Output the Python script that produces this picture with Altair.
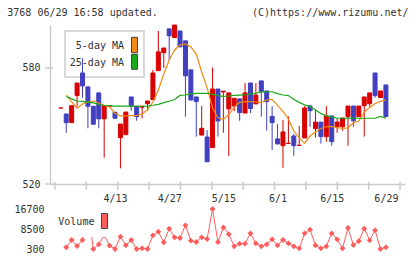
import altair as alt
import numpy as np
import pandas as pd

# Daily prices (oldest first)
open_ = [559.3, 556.2, 551.7, 565.7, 577.4, 570.2, 560.2, 567.1, 553.7, 560.2, 557.1, 544.0, 545.5, 565.0, 560.2,
         559.7, 561.5, 563.6, 578.6, 587.9, 600.2, 595.7, 599.1, 594.0, 579.0, 565.0, 545.3, 544.3, 538.8, 569.1,
         567.6, 558.8, 560.3, 564.0, 556.7, 572.2, 561.4, 573.3, 568.1, 555.0, 543.3, 539.8, 541.0, 544.8, 540.0,
         543.8, 560.3, 548.6, 552.0, 544.5, 555.2, 549.6, 549.6, 554.8, 560.3, 554.8, 560.5, 561.5, 577.4, 564.7, 571.2]
high = [559.3, 556.2, 560.5, 572.2, 585.0, 570.2, 560.2, 567.1, 560.5, 560.2, 557.1, 551.0, 557.2, 565.0, 560.2,
        560.4, 562.9, 579.0, 599.1, 590.3, 600.2, 602.2, 599.1, 594.0, 579.0, 565.0, 560.3, 547.8, 580.2, 569.1,
        568.0, 567.1, 564.3, 564.0, 572.2, 572.2, 572.2, 573.3, 568.1, 560.3, 551.0, 553.1, 555.0, 545.9, 550.0,
        560.3, 561.0, 558.3, 552.0, 560.3, 555.2, 553.8, 554.1, 560.3, 560.3, 560.3, 565.0, 567.1, 577.4, 568.1, 571.2]
low = [559.3, 546.5, 551.7, 560.0, 564.6, 548.8, 550.9, 548.8, 533.6, 560.2, 554.0, 528.1, 545.5, 557.9, 552.7,
       554.0, 557.8, 563.6, 578.6, 580.0, 584.0, 595.7, 590.9, 554.8, 563.4, 544.5, 545.3, 531.5, 538.8, 544.5,
       546.5, 534.5, 557.6, 552.7, 556.7, 556.7, 561.4, 554.8, 547.6, 537.6, 540.7, 528.4, 541.0, 534.6, 540.0,
       543.8, 549.6, 544.0, 540.9, 541.9, 539.8, 546.5, 547.6, 539.8, 549.6, 554.8, 544.5, 560.0, 564.6, 564.7, 554.8]
close = [559.3, 551.7, 560.5, 572.2, 570.7, 560.2, 550.9, 553.7, 560.5, 560.2, 554.0, 551.0, 557.2, 560.2, 554.8,
         560.2, 562.9, 577.4, 588.3, 590.3, 596.6, 602.2, 590.9, 575.9, 563.4, 562.6, 548.8, 531.5, 569.1, 552.6,
         568.0, 567.1, 564.3, 556.9, 567.1, 559.0, 566.0, 567.7, 562.6, 551.7, 540.7, 546.9, 541.0, 539.8, 540.0,
         559.3, 557.9, 552.0, 544.5, 555.2, 541.9, 552.0, 554.1, 560.3, 552.7, 560.3, 565.0, 567.1, 565.7, 568.1, 554.8]

# Moving averages
ma5 = [None, 565.9, 562.4, 559.2, 561.4, 562.3, 562.9, 561.9, 560.6, 559.8, 556.6, 555.2, 555.2, 555.4, 555.4,
       556.2, 558.3, 562.4, 568.6, 576.9, 584.1, 589.3, 591.9, 592.4, 590.9, 587.2, 577.9, 569.7, 559.3, 554.1,
       553.4, 555.9, 559.8, 562.2, 562.6, 562.6, 562.4, 562.2, 563.4, 563.7, 560.6, 557.5, 553.6, 547.4, 543.8,
       541.1, 544.8, 546.9, 548.7, 549.6, 549.8, 549.1, 548.8, 549.0, 551.6, 552.6, 557.0, 559.6, 561.6, 562.7, 563.4]
ma25 = [None, 565.2, 564.0, 562.9, 562.7, 562.3, 561.9, 561.1, 560.7, 560.5, 560.3, 560.3, 560.3, 560.3, 560.2,
        560.2, 560.3, 560.7, 561.2, 562.1, 562.8, 563.7, 565.8, 566.0, 566.6, 566.9, 566.9, 566.9, 566.3, 565.7,
        565.3, 565.5, 565.8, 565.9, 566.0, 566.6, 566.9, 567.6, 567.7, 567.7, 566.7, 566.0, 565.7, 563.7, 562.2,
        560.9, 560.0, 558.3, 556.5, 555.2, 554.7, 554.0, 554.0, 554.1, 554.0, 554.0, 554.0, 554.0, 554.0, 554.9, 554.0]

# Volume
volume = [None, 1000, 3990, 1530, 3990, 16290, 300, 2230, 6040, 1650, 300, 5340, 1820, 3990, 300,
          590, 300, 5920, 7390, 3050, 8620, 5100, 4810, 10020, 3700, 3170, 5100, 4400, 16700, 3170,
          9120, 6370, 1410, 2470, 2470, 6740, 2640, 1410, 2230, 4280, 1820, 3990, 2640, 1410, 590,
          6740, 8210, 1820, 590, 1410, 6740, 4280, 590, 8910, 1940, 3580, 8620, 3870, 7970, 300, 1000]

# Date labels on the day axis
label_days = [10, 20, 30, 40, 50, 60]
label_text = ["4/13", "4/27", "5/15", "6/1", "6/15", "6/29"]
price_ticks = [520, 580]
volume_ticks = [300, 8500, 16700]

RED, BLUE = "#d80000", "#4040c0"
ORANGE, GREEN, VOLC = "#f08a10", "#18a818", "#ff5c5c"
AXC, TXT = "#cccccc", "#333333"
FONT = "DejaVu Sans Mono"

W, H = 355, 224
PRICE_RANGE = [159, 0]
VOL_RANGE = [224, 184]

df = pd.DataFrame({"i": range(len(close)), "open": open_, "high": high, "low": low,
                   "close": close, "ma5": ma5, "ma25": ma25, "vol": volume})
df["dir"] = np.where(df["close"] >= df["open"], "up", "down")

x_min, x_max = -1.076, 62.6
xscale = alt.Scale(domain=[x_min, x_max], nice=False, zero=False)
pscale = alt.Scale(domain=[520, 602.2], range=PRICE_RANGE, nice=False, zero=False)
vscale = alt.Scale(domain=[300, 16700], range=VOL_RANGE, nice=False, zero=False)
cscale = alt.Scale(domain=["up", "down"], range=[RED, BLUE])

label_expr = "[" + ",".join(f"'{t}'" for t in label_text) + "][indexof([" + \
    ",".join(str(d) for d in label_days) + "], datum.value)]"
x_axis = alt.Axis(values=label_days, labelExpr=label_expr, offset=-(H - PRICE_RANGE[0]),
                  domainColor=AXC, domainWidth=1.5, ticks=False, tickSize=0, labelPadding=9,
                  labelFont=FONT, labelFontSize=10, labelColor=TXT, grid=False, title=None,
                  labelFlush=False, labelOverlap=False)


def xenc(field):
    return alt.X(f"{field}:Q", scale=xscale, axis=x_axis)


X = xenc("i")
base = alt.Chart(df)

# legend box for moving averages (drawn beneath the candles)
legend_box = alt.Chart(pd.DataFrame({"k": [0]})).mark_rect(fill="white", stroke=AXC, strokeWidth=1.5).encode(
    x=alt.value(15), x2=alt.value(94), y=alt.value(6), y2=alt.value(52))
ma_names = pd.DataFrame({"name": ["5-day MA", "25-day MA"], "yy": [21, 38.3],
                         "c": [ORANGE, GREEN], "y0": [12.3, 29.3], "y1": [27.7, 44.3]})
legend_text = alt.Chart(ma_names).mark_text(align="right", baseline="middle", font=FONT,
                                            fontSize=10, color=TXT).encode(
    text="name:N", x=alt.value(74), y=alt.Y("yy:Q", scale=None))
legend_swatch = alt.Chart(ma_names).mark_rect(stroke="#444444", strokeWidth=1).encode(
    x=alt.value(81.5), x2=alt.value(87.5), y=alt.Y("y0:Q", scale=None), y2="y1:Q",
    fill=alt.Fill("c:N", scale=None))

wicks = base.mark_rule(strokeWidth=1).encode(
    x=X, y=alt.Y("low:Q", scale=pscale, axis=None), y2="high:Q",
    color=alt.Color("dir:N", scale=cscale, legend=None))

bodies = base.mark_bar(size=4, strokeWidth=1).encode(
    x=X,
    y=alt.Y("open:Q", scale=pscale,
            axis=alt.Axis(values=price_ticks, orient="left", domainColor=AXC, domainWidth=1.5,
                          ticks=False, tickSize=0, labelPadding=10, labelFont=FONT, labelFontSize=10,
                          labelColor=TXT, grid=False, title=None, labelFlush=False, labelOverlap=False)),
    y2="close:Q",
    color=alt.Color("dir:N", scale=cscale, legend=None),
    stroke=alt.Stroke("dir:N", scale=cscale, legend=None))

ma5_line = base.mark_line(color=ORANGE, strokeWidth=1.2).encode(
    x=X, y=alt.Y("ma5:Q", scale=pscale, axis=None))
ma25_line = base.mark_line(color=GREEN, strokeWidth=1.2).encode(
    x=X, y=alt.Y("ma25:Q", scale=pscale, axis=None))

# short tick marks crossing the axis lines
ytick = alt.Chart(pd.DataFrame({"v": price_ticks})).mark_rule(color=AXC, strokeWidth=1.5).encode(
    y=alt.Y("v:Q", scale=pscale, axis=None), x=alt.value(-5), x2=alt.value(3))
xtick_pos = np.linspace(x_min, x_max, 12)
xtick = alt.Chart(pd.DataFrame({"t": xtick_pos})).mark_rule(color=AXC, strokeWidth=1.5).encode(
    x=xenc("t"), y=alt.value(156.7), y2=alt.value(165))

vol_line = base.mark_line(color=VOLC, strokeWidth=1).encode(
    x=X, y=alt.Y("vol:Q", scale=vscale, axis=None))
vol_pts = base.mark_point(shape="diamond", filled=True, size=34, color=VOLC, opacity=1).encode(
    x=X,
    y=alt.Y("vol:Q", scale=vscale,
            axis=alt.Axis(values=volume_ticks, format="d", orient="left", domain=False, ticks=False,
                          tickSize=0, labelPadding=6, labelFont=FONT, labelFontSize=10, labelColor=TXT,
                          grid=False, title=None, labelFlush=False, labelOverlap=False)))

vol_box = alt.Chart(pd.DataFrame({"k": [0]})).mark_rect(fill="white").encode(
    x=alt.value(4), x2=alt.value(61), y=alt.value(179), y2=alt.value(212))
vol_text = alt.Chart(pd.DataFrame({"t": ["Volume"]})).mark_text(
    align="left", baseline="middle", font=FONT, fontSize=10, color=TXT).encode(
    text="t:N", x=alt.value(8.3), y=alt.value(196.7))
vol_swatch = alt.Chart(pd.DataFrame({"k": [0]})).mark_rect(fill=VOLC, stroke="#444444", strokeWidth=1).encode(
    x=alt.value(51.5), x2=alt.value(57.5), y=alt.value(188.5), y2=alt.value(203.5))

head_left = alt.Chart(pd.DataFrame({"t": ["3768 06/29 16:58 updated."]})).mark_text(
    align="left", baseline="middle", font=FONT, fontSize=10, color=TXT).encode(
    text="t:N", x=alt.value(-42.7), y=alt.value(-12))
head_right = alt.Chart(pd.DataFrame({"t": ["(C)https://www.rizumu.net/"]})).mark_text(
    align="right", baseline="middle", font=FONT, fontSize=10, color=TXT).encode(
    text="t:N", x=alt.value(358.5), y=alt.value(-12))

chart = alt.layer(
    legend_box, legend_text, legend_swatch,
    xtick, ytick,
    wicks, bodies, ma5_line, ma25_line,
    vol_line, vol_pts, vol_box, vol_text, vol_swatch,
    head_left, head_right,
).resolve_scale(y="independent").properties(
    width=W, height=H,
    autosize=alt.AutoSizeParams(type="none"),
    padding={"left": 50, "top": 25, "right": 15, "bottom": 10},
    background="white",
).configure_view(stroke=None)

chart.save("out.html", embed_options={"renderer": "svg", "actions": False})
